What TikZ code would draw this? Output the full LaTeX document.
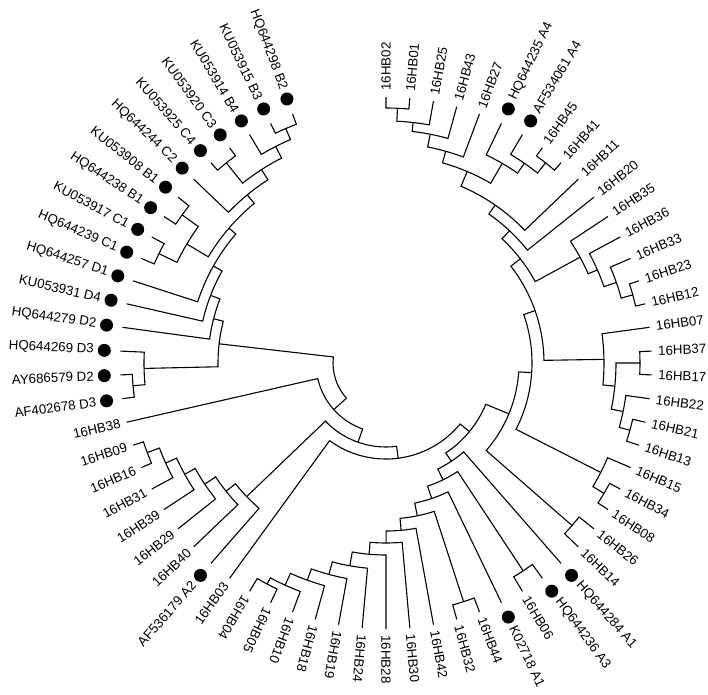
\documentclass[tikz,border=0pt]{standalone}
\usepackage{fontspec}
\setmainfont{Liberation Sans}
\newcommand{\tnode}[5]{\draw (#2:#3pt) -- (#2:#1pt) arc[start angle=#2, end angle=#4, radius=#1pt] -- (#4:#5pt);}
\newcommand{\LR}[3]{\node[lab,rotate={#2},anchor=west] (#1) at (#2:272pt) {#3};}
\newcommand{\LRd}[3]{\fill (#2:282pt) circle[radius=6.5pt]; \node[lab,rotate={#2},anchor=west] (#1) at (#2:292pt) {#3};}
\newcommand{\LL}[3]{\node[lab,rotate={#2+180},anchor=east] (#1) at (#2:272pt) {#3};}
\newcommand{\LLd}[3]{\fill (#2:282pt) circle[radius=6.5pt]; \node[lab,rotate={#2+180},anchor=east] (#1) at (#2:292pt) {#3};}
\begin{document}
\begin{tikzpicture}[x=1pt,y=1pt,line width=1.1pt,
  lab/.style={font=\fontsize{13.3}{13.3}\selectfont, inner sep=0pt}]
\useasboundingbox (-386pt,-331pt) rectangle (322pt,363pt);
% top group
\tnode{255}{90}{266}{84.857}{266}
\tnode{242}{87.429}{255}{79.714}{266}
\tnode{233}{83.571}{242}{74.571}{266}
\tnode{220}{79.071}{233}{69.429}{266}
\tnode{256}{54}{266}{48.857}{266}
\tnode{243}{59.143}{266}{51.429}{256}
\tnode{231}{64.286}{266}{55.286}{243}
\tnode{208}{74.25}{220}{59.786}{231}
\tnode{192}{67.018}{208}{43.714}{266}
\tnode{181}{55.366}{192}{38.571}{266}
\tnode{256}{18}{266}{12.857}{266}
\tnode{244}{23.143}{266}{15.429}{256}
\tnode{231}{28.286}{266}{19.286}{244}
\tnode{221}{33.429}{266}{23.786}{231}
\tnode{170}{46.969}{181}{28.607}{221}
% right group
\tnode{254}{2.571}{266}{-2.571}{266}
\tnode{253}{-12.857}{266}{-18}{266}
\tnode{242}{-7.714}{266}{-15.429}{253}
\tnode{230}{0}{254}{-11.571}{242}
\tnode{218}{7.714}{266}{-5.786}{230}
\tnode{158}{37.788}{170}{0.964}{218}
\tnode{254}{-28.286}{266}{-33.429}{266}
\tnode{241}{-23.143}{266}{-30.857}{254}
\tnode{146}{19.376}{158}{-27}{241}
\tnode{247}{-38.571}{266}{-43.714}{266}
\tnode{133}{-3.812}{146}{-41.143}{247}
% bottom ladder
\tnode{251}{-115.714}{266}{-120.857}{266}
\tnode{244}{-110.571}{266}{-118.286}{251}
\tnode{231}{-105.429}{266}{-114.429}{244}
\tnode{219}{-100.286}{266}{-109.929}{231}
\tnode{206}{-95.143}{266}{-105.107}{219}
\tnode{192}{-90}{266}{-100.125}{206}
\tnode{180}{-84.857}{266}{-95.063}{192}
\tnode{168}{-79.714}{266}{-89.96}{180}
\tnode{251}{-69.429}{266}{-74.571}{266}
\tnode{156}{-72}{251}{-84.837}{168}
\tnode{143}{-64.286}{266}{-78.419}{156}
\tnode{249}{-54}{266}{-59.143}{266}
\tnode{130}{-56.571}{249}{-71.352}{143}
\tnode{118}{-48.857}{266}{-63.962}{130}
\tnode{108}{-22.477}{133}{-56.41}{118}
\tnode{96}{-39.443}{108}{-126}{266}
% lower left group
\tnode{255}{-156.857}{266}{-162}{266}
\tnode{242}{-151.714}{266}{-159.429}{255}
\tnode{230}{-146.571}{266}{-155.571}{242}
\tnode{218}{-141.429}{266}{-151.071}{230}
\tnode{205}{-136.286}{266}{-146.25}{218}
\tnode{193}{-131.143}{266}{-141.268}{205}
\tnode{84}{-82.722}{96}{-136.205}{193}
\tnode{70}{-109.464}{84}{-167.143}{266}
% reference group
\tnode{254}{-172.286}{266}{-177.429}{266}
\tnode{242}{-174.857}{254}{-182.571}{266}
\tnode{255}{-244.286}{266}{-249.429}{266}
\tnode{243}{-239.143}{266}{-246.857}{255}
\tnode{256}{-228.857}{266}{-234}{266}
\tnode{230}{-231.429}{256}{-243}{243}
\tnode{218}{-223.714}{266}{-237.214}{230}
\tnode{252}{-203.143}{266}{-208.286}{266}
\tnode{252}{-213.429}{266}{-218.571}{266}
\tnode{232}{-205.714}{252}{-216}{252}
\tnode{207}{-210.857}{232}{-230.464}{218}
\tnode{198}{-198}{266}{-220.66}{207}
\tnode{188}{-192.857}{266}{-209.33}{198}
\tnode{178}{-187.714}{266}{-201.09}{188}
\tnode{168}{-178.714}{242}{-194.4}{178}
% root
\tnode{53}{-186.56}{168}{-138.304}{70}
% labels
\LR{L1}{90}{16HB02}
\LR{L2}{84.857}{16HB01}
\LR{L3}{79.714}{16HB25}
\LR{L4}{74.571}{16HB43}
\LR{L5}{69.429}{16HB27}
\LRd{L6}{64.286}{HQ644235 A4}
\LRd{L7}{59.143}{AF534061 A4}
\LR{L8}{54}{16HB45}
\LR{L9}{48.857}{16HB41}
\LR{L10}{43.714}{16HB11}
\LR{L11}{38.571}{16HB20}
\LR{L12}{33.429}{16HB35}
\LR{L13}{28.286}{16HB36}
\LR{L14}{23.143}{16HB33}
\LR{L15}{18}{16HB23}
\LR{L16}{12.857}{16HB12}
\LR{L17}{7.714}{16HB07}
\LR{L18}{2.571}{16HB37}
\LR{L19}{-2.571}{16HB17}
\LR{L20}{-7.714}{16HB22}
\LR{L21}{-12.857}{16HB21}
\LR{L22}{-18}{16HB13}
\LR{L23}{-23.143}{16HB15}
\LR{L24}{-28.286}{16HB34}
\LR{L25}{-33.429}{16HB08}
\LR{L26}{-38.571}{16HB26}
\LR{L27}{-43.714}{16HB14}
\LRd{L28}{-48.857}{HQ644284 A1}
\LRd{L29}{-54}{HQ644236 A3}
\LR{L30}{-59.143}{16HB06}
\LRd{L31}{-64.286}{K02718 A1}
\LR{L32}{-69.429}{16HB44}
\LR{L33}{-74.571}{16HB32}
\LR{L34}{-79.714}{16HB42}
\LR{L35}{-84.857}{16HB30}
\LR{L36}{-90}{16HB28}
\LR{L37}{-95.143}{16HB24}
\LR{L38}{-100.286}{16HB19}
\LR{L39}{-105.429}{16HB18}
\LR{L40}{-110.571}{16HB10}
\LR{L41}{-115.714}{16HB05}
\LR{L42}{-120.857}{16HB04}
\LL{L43}{-126}{16HB03}
\LLd{L44}{-131.143}{AF536179 A2}
\LL{L45}{-136.286}{16HB40}
\LL{L46}{-141.429}{16HB29}
\LL{L47}{-146.571}{16HB39}
\LL{L48}{-151.714}{16HB31}
\LL{L49}{-156.857}{16HB16}
\LL{L50}{-162}{16HB09}
\LL{L51}{-167.143}{16HB38}
\LLd{L52}{-172.286}{AF402678 D3}
\LLd{L53}{-177.429}{AY686579 D2}
\LLd{L54}{-182.571}{HQ644269 D3}
\LLd{L55}{-187.714}{HQ644279 D2}
\LLd{L56}{-192.857}{KU053931 D4}
\LLd{L57}{-198}{HQ644257 D1}
\LLd{L58}{-203.143}{HQ644239 C1}
\LLd{L59}{-208.286}{KU053917 C1}
\LLd{L60}{-213.429}{HQ644238 B1}
\LLd{L61}{-218.571}{KU053908 B1}
\LLd{L62}{-223.714}{HQ644244 C2}
\LLd{L63}{-228.857}{KU053925 C4}
\LLd{L64}{-234}{KU053920 C3}
\LLd{L65}{-239.143}{KU053914 B4}
\LLd{L66}{-244.286}{KU053915 B3}
\LLd{L67}{-249.429}{HQ644298 B2}
\end{tikzpicture}
\end{document}
